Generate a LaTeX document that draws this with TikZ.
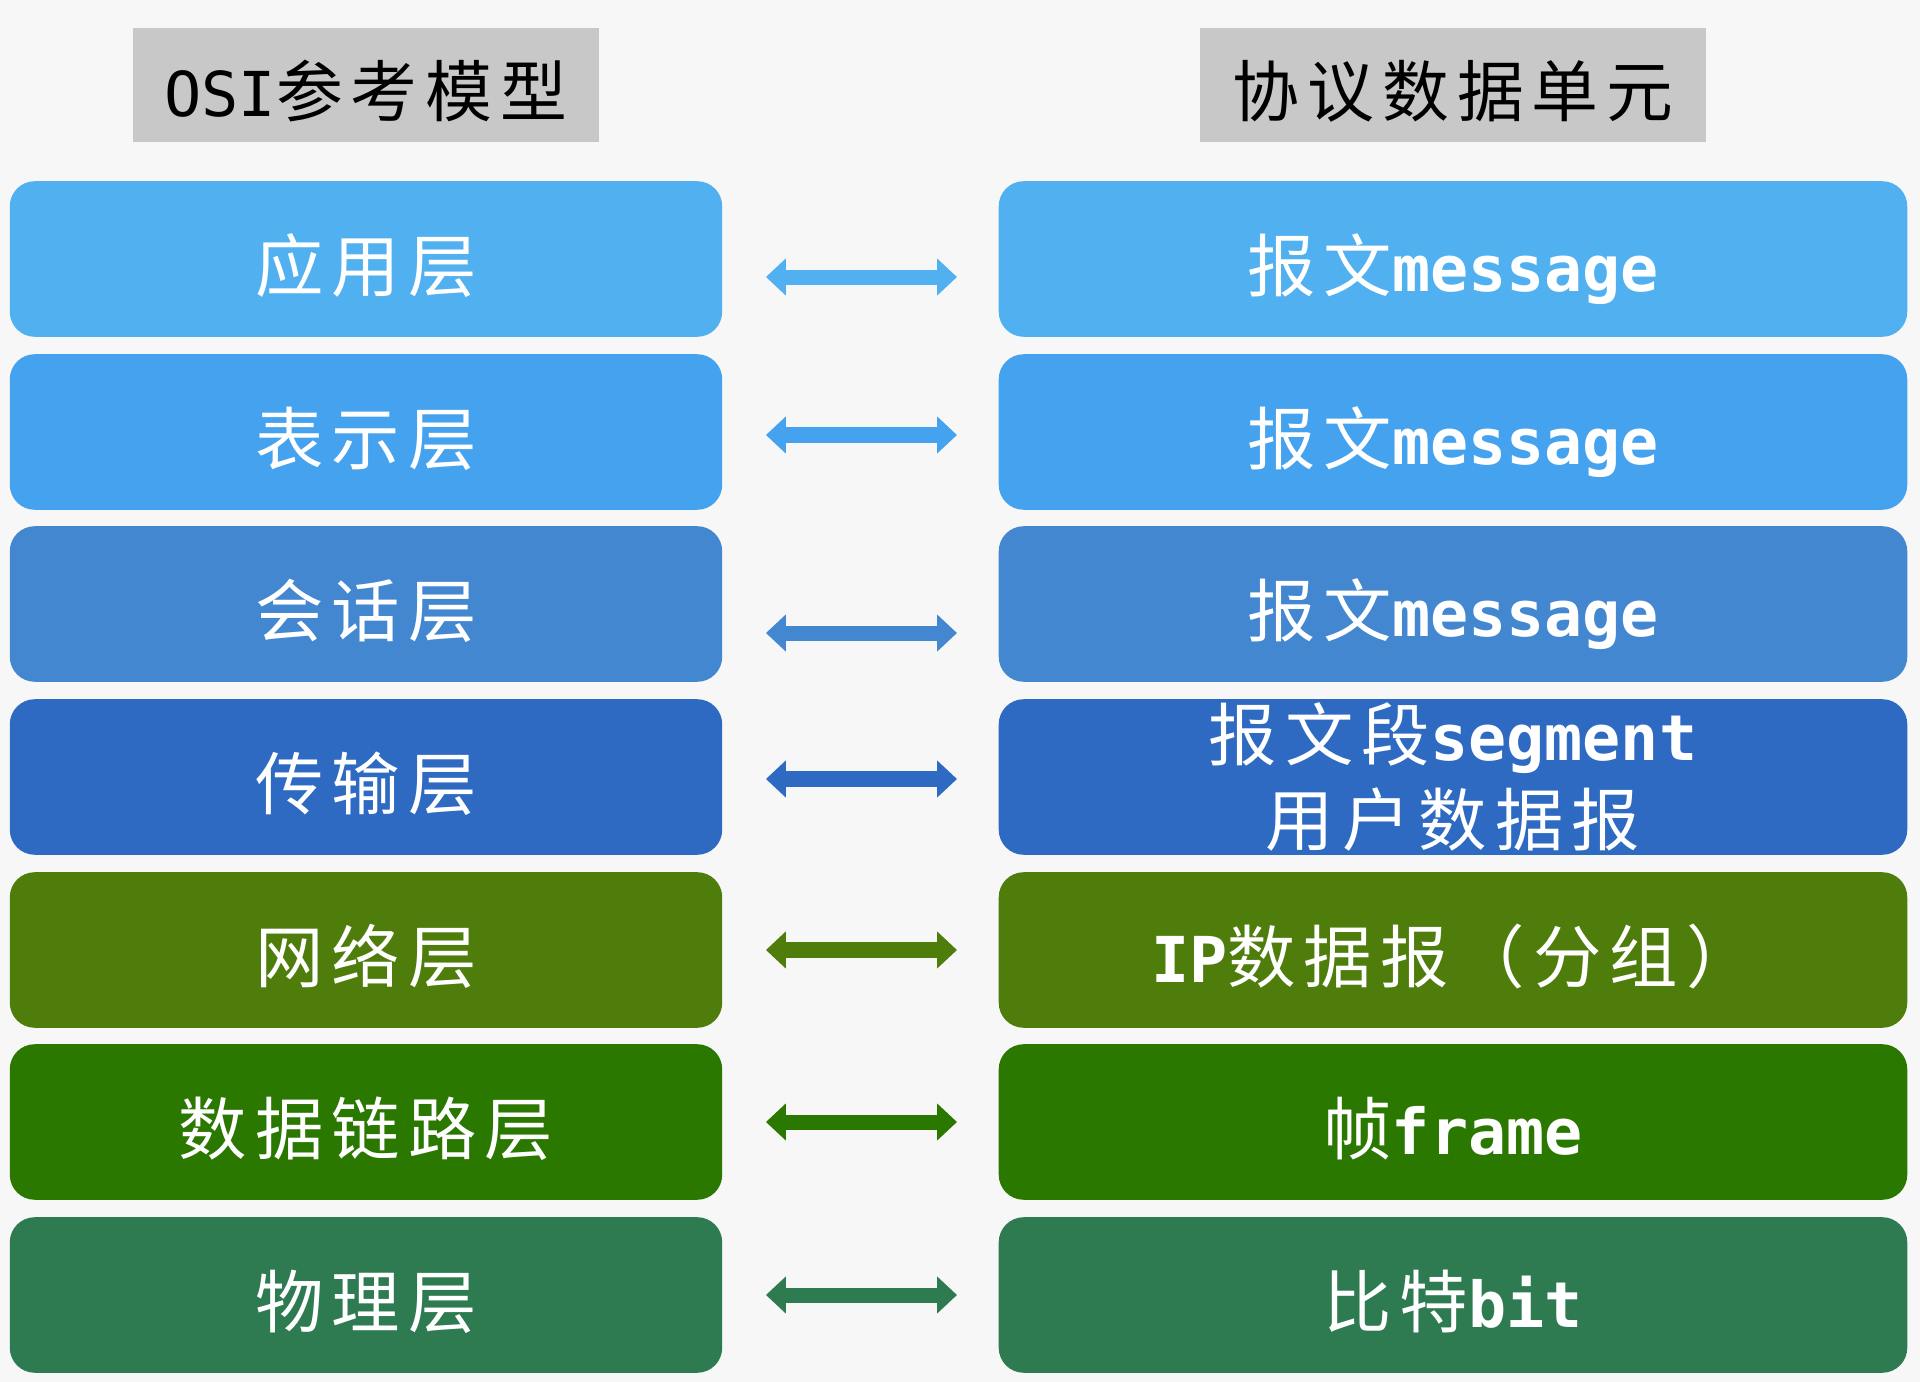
\documentclass[tikz,border=0pt]{standalone}
\usepackage{fontspec}
\usetikzlibrary{arrows.meta}
\newfontfamily\zhf{Noto Sans CJK SC}[LetterSpace=12,Scale=1.08]
\newfontfamily\enf{DejaVu Sans Mono}
\newcommand{\zhtxt}[1]{{\zhf #1}}
\newcommand{\entxt}[1]{{\enf\bfseries #1}}
\definecolor{headgray}{HTML}{C8C8C8}
\definecolor{cone}{HTML}{50B0F0}
\definecolor{ctwo}{HTML}{45A2EE}
\definecolor{cthree}{HTML}{4287D0}
\definecolor{cfour}{HTML}{2E6AC2}
\definecolor{cfive}{HTML}{4F7D0B}
\definecolor{csix}{HTML}{2A7800}
\definecolor{cseven}{HTML}{2E7B52}
\begin{document}
\begin{tikzpicture}[x=0.01cm,y=-0.01cm,
	head/.style={fill=headgray,minimum width=4.66cm,minimum height=1.14cm,inner sep=0pt,text height=0.66cm,text depth=0.04cm,font=\fontsize{17.6}{17.6}\selectfont},
	layer/.style={rounded corners=0.25cm,minimum height=1.555cm,inner sep=0pt,align=center,text=white,font=\fontsize{18}{24.5}\selectfont},
	oneline/.style={text height=0.72cm,text depth=0.08cm},
	osibox/.style={layer,oneline,minimum width=7.12cm},
	pdubox/.style={layer,minimum width=9.08cm},
	dbl/.style={line width=0.15cm,{Triangle[length=0.2cm,width=0.36cm]}-{Triangle[length=0.2cm,width=0.36cm]},shorten <=0.43cm,shorten >=0.41cm}]
	\fill[black!3] (0,0) rectangle (1920,1382);
	\useasboundingbox (0,0) rectangle (1920,1382);
	
	\node[head] (hosi) at (366,85) {\entxt{\mdseries OSI}\zhtxt{参考模型}};
	\node[head,minimum width=5.05cm] (hpdu) at (1453,85) {\zhtxt{协议数据单元}};
	
	\node[osibox,fill=cone] (l1) at (366,259) {\zhtxt{应用层}};
	\node[pdubox,oneline,fill=cone] (r1) at (1453,259) {\zhtxt{报文}\entxt{message}};
	\draw[dbl,cone] ([yshift=-0.18cm]l1.east) -- ([yshift=-0.18cm]r1.west);
	
	\node[osibox,fill=ctwo] (l2) at (366,432) {\zhtxt{表示层}};
	\node[pdubox,oneline,fill=ctwo] (r2) at (1453,432) {\zhtxt{报文}\entxt{message}};
	\draw[dbl,ctwo] ([yshift=-0.03cm]l2.east) -- ([yshift=-0.03cm]r2.west);
	
	\node[osibox,fill=cthree] (l3) at (366,604) {\zhtxt{会话层}};
	\node[pdubox,oneline,fill=cthree] (r3) at (1453,604) {\zhtxt{报文}\entxt{message}};
	\draw[dbl,cthree] ([yshift=-0.29cm]l3.east) -- ([yshift=-0.29cm]r3.west);
	
	\node[osibox,fill=cfour] (l4) at (366,777) {\zhtxt{传输层}};
	\node[pdubox,fill=cfour] (r4) at (1453,777) {\zhtxt{报文段}\entxt{segment}\\[-0.02cm]\zhtxt{用户数据报}};
	\draw[dbl,cfour] ([yshift=-0.02cm]l4.east) -- ([yshift=-0.02cm]r4.west);
	
	\node[osibox,fill=cfive] (l5) at (366,950) {\zhtxt{网络层}};
	\node[pdubox,oneline,fill=cfive] (r5) at (1453,950) {\entxt{IP}\zhtxt{数据报（分组）}};
	\draw[dbl,cfive] (l5.east) -- (r5.west);
	
	\node[osibox,fill=csix] (l6) at (366,1122) {\zhtxt{数据链路层}};
	\node[pdubox,oneline,fill=csix] (r6) at (1453,1122) {\zhtxt{帧}\entxt{frame}};
	\draw[dbl,csix] (l6.east) -- (r6.west);
	
	\node[osibox,fill=cseven] (l7) at (366,1295) {\zhtxt{物理层}};
	\node[pdubox,oneline,fill=cseven] (r7) at (1453,1295) {\zhtxt{比特}\entxt{bit}};
	\draw[dbl,cseven] (l7.east) -- (r7.west);
\end{tikzpicture}
\end{document}
